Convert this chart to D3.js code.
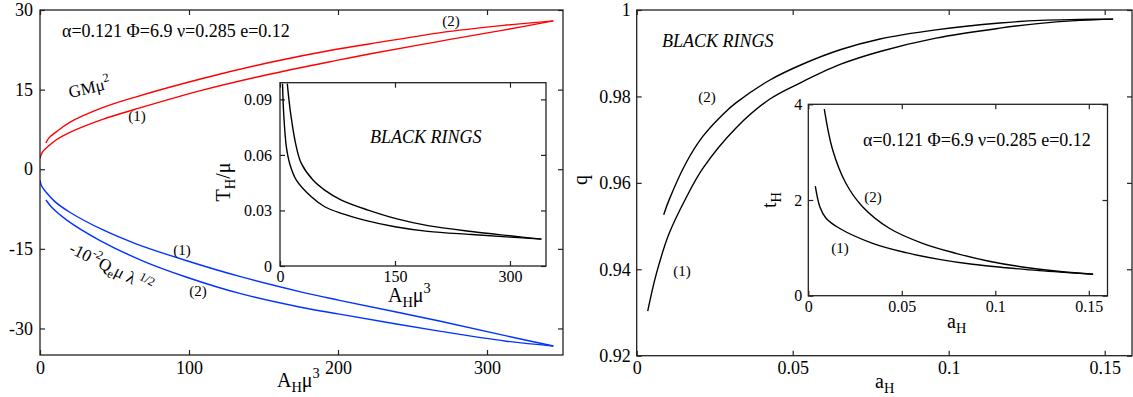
<!DOCTYPE html>
<html>
<head>
<meta charset="utf-8">
<script src="https://cdn.jsdelivr.net/npm/d3@7"></script>
<style>
  body { margin: 0; background: #fff; }
  svg { display: block; }
  text { font-family: "Liberation Serif", "DejaVu Serif", serif; fill: #000; }
</style>
</head>
<body>
<div id="chart"></div>
<script>
// ---- data ----
// left main panel: GM mu^2 and -10^-2 Qe mu lambda^1/2 against A_H mu^3
const gmBranch1 = [[0,2.0],[1.8,3.3],[6.3,4.5],[10.7,5.5],[19.7,6.9],[42,9.4],[64,11.3],[109,14.9],[154,17.9],[199,20.5],[221,21.7],[268,24.1],[311,26.2],[344.5,27.95]];
const gmBranch2 = [[4,4.95],[6,5.9],[10.7,7.0],[19.7,8.8],[42,11.6],[64,13.6],[109,17.1],[154,20.1],[199,22.6],[221,23.6],[268,25.7],[311,27.1],[344.5,27.95]];
const qeBranch1 = [[0,-2.06],[1,-3.1],[4,-4.3],[10,-6.1],[20,-8.1],[42,-11.4],[64,-14.0],[98,-17.2],[134,-20.2],[175,-23.1],[201,-24.7],[268,-28.6],[313,-31.4],[344.5,-33.3]];
const qeBranch2 = [[4,-5.8],[8,-7.2],[18,-9.6],[40,-13.4],[70,-17.4],[98,-20.3],[134,-23.4],[175,-26.0],[201,-27.3],[268,-30.5],[313,-32.4],[344.5,-33.3]];

// left inset: T_H/mu against A_H mu^3
const tBranch1 = [[3.3,0.0985],[4.8,0.0823],[8.3,0.0643],[12.6,0.0554],[21.3,0.0464],[40.9,0.0374],[58.3,0.032],[80,0.0284],[110,0.0248],[150,0.0212],[193,0.0187],[250,0.0170],[300,0.0156],[341,0.0145]];
const tBranch2 = [[9.5,0.0985],[13.9,0.0823],[21.3,0.0643],[27.8,0.0554],[43,0.0464],[58.3,0.041],[80,0.0356],[115,0.0302],[154,0.0253],[193,0.0218],[250,0.0186],[300,0.0163],[341,0.0145]];

// right main panel: q against a_H
const qBranch1 = [[0.00353,0.9303],[0.0062,0.9387],[0.01035,0.9482],[0.0158,0.9565],[0.02125,0.9634],[0.03183,0.9727],[0.0427,0.9794],[0.0523,0.9831],[0.0652,0.9874],[0.078,0.9904],[0.0959,0.9935],[0.1164,0.9958],[0.1293,0.9969],[0.1421,0.9976],[0.1527,0.9979]];
const qBranch2 = [[0.00865,0.9526],[0.01035,0.9560],[0.0158,0.9646],[0.02125,0.9708],[0.0277,0.9759],[0.0318,0.9785],[0.0427,0.9838],[0.0533,0.9875],[0.0652,0.9908],[0.078,0.9933],[0.0959,0.9954],[0.1164,0.9970],[0.1293,0.9976],[0.1421,0.9978],[0.1527,0.9979]];

// right inset: t_H against a_H
const thBranch1 = [[0.00375,2.29],[0.00625,1.85],[0.0095,1.62],[0.0166,1.41],[0.0344,1.095],[0.0522,0.90],[0.070,0.76],[0.0878,0.656],[0.1056,0.585],[0.1234,0.523],[0.1523,0.447]];
const thBranch2 = [[0.00855,3.90],[0.013,3.05],[0.0201,2.35],[0.029,1.86],[0.0433,1.41],[0.0611,1.095],[0.0789,0.886],[0.0967,0.72],[0.1145,0.60],[0.1323,0.515],[0.1523,0.447]];

// tick values
const leftXTicks = [0, 100, 200, 300];
const leftYTicks = [-30, -15, 0, 15, 30];
const insetLXTicks = [0, 150, 300];
const insetLYTicks = [0, 0.03, 0.06, 0.09];
const rightXTicks = [0, 0.05, 0.1, 0.15];
const rightYTicks = [0.92, 0.94, 0.96, 0.98, 1];
const insetRXTicks = [0, 0.05, 0.1, 0.15];
const insetRYTicks = [0, 2, 4];

const params = 'α=0.121 Φ=6.9 ν=0.285 e=0.12';

const svg = d3.select('#chart').append('svg')
    .attr('width', 1133)
    .attr('height', 397);

let clipId = 0;

// draws a framed panel with inward ticks on all four sides
function panel(o) {
    const x = d3.scaleLinear().domain(o.xDomain).range(o.xRange);
    const y = d3.scaleLinear().domain(o.yDomain).range(o.yRange);
    const x0 = o.xRange[0], x1 = o.xRange[1];
    const y0 = o.yRange[1], y1 = o.yRange[0];
    const g = svg.append('g');

    g.append('rect')
        .attr('x', x0).attr('y', y0)
        .attr('width', x1 - x0).attr('height', y1 - y0)
        .attr('fill', '#fff');

    const fmt = d => String(d);
    const put = (gen, tx, ty) => {
        const a = g.append('g')
            .attr('transform', `translate(${tx},${ty})`)
            .call(gen.tickSizeInner(-5).tickSizeOuter(0));
        a.select('.domain').remove();
        a.attr('font-family', null).attr('font-size', null);
        a.selectAll('line').attr('stroke', '#222').attr('stroke-width', 1.2);
        a.selectAll('text').style('font-size', o.fs + 'px');
        return a;
    };
    put(d3.axisBottom(x).tickValues(o.xTicks).tickFormat(fmt).tickPadding(o.padB), 0, y1);
    put(d3.axisLeft(y).tickValues(o.yTicks).tickFormat(fmt).tickPadding(o.padL), x0, 0);
    put(d3.axisTop(x).tickValues(o.xTicks).tickFormat(''), 0, y0);
    put(d3.axisRight(y).tickValues(o.yTicks).tickFormat(''), x1, 0);

    const id = 'clip' + (clipId++);
    g.append('clipPath').attr('id', id)
        .append('rect')
        .attr('x', x0).attr('y', y0)
        .attr('width', x1 - x0).attr('height', y1 - y0);

    const line = d3.line()
        .x(d => x(d[0]))
        .y(d => y(d[1]))
        .curve(d3.curveCatmullRom.alpha(0.5));

    o.series.forEach(s => {
        g.append('path')
            .datum(s.data)
            .attr('clip-path', `url(#${id})`)
            .attr('fill', 'none')
            .attr('stroke', s.color)
            .attr('stroke-width', 1.4)
            .attr('d', line);
    });

    g.append('rect')
        .attr('x', x0).attr('y', y0)
        .attr('width', x1 - x0).attr('height', y1 - y0)
        .attr('fill', 'none')
        .attr('stroke', '#222')
        .attr('stroke-width', 1.3);
    return g;
}

// text with sub / superscripts
function rich(x, y, segs, size, opt = {}) {
    const t = svg.append('text')
        .attr('x', x).attr('y', y)
        .style('font-size', size + 'px');
    if (opt.rotate) t.attr('transform', `rotate(${opt.rotate},${x},${y})`);
    if (opt.anchor) t.attr('text-anchor', opt.anchor);
    if (opt.italic) t.style('font-style', 'italic');
    let shift = 0;
    segs.forEach(([s, k]) => {
        const target = k === 'sub' ? 0.25 * size : k === 'sup' ? -0.45 * size : 0;
        t.append('tspan')
            .attr('dy', target - shift)
            .style('font-size', (k === 'n' ? size : size * 0.72) + 'px')
            .text(s);
        shift = target;
    });
    return t;
}

// left main
panel({
    xDomain: [0, 351], xRange: [40, 563],
    yDomain: [-35, 30], yRange: [355, 10],
    xTicks: leftXTicks, yTicks: leftYTicks,
    fs: 18, padB: 6, padL: 7,
    series: [
        { data: gmBranch1, color: '#ff0000' },
        { data: gmBranch2, color: '#ff0000' },
        { data: qeBranch1, color: '#0033ff' },
        { data: qeBranch2, color: '#0033ff' }
    ]
});

// left inset
panel({
    xDomain: [0, 347], xRange: [280, 546],
    yDomain: [0, 0.099], yRange: [266, 82.7],
    xTicks: insetLXTicks, yTicks: insetLYTicks,
    fs: 16, padB: 5, padL: 8,
    series: [
        { data: tBranch1, color: '#000' },
        { data: tBranch2, color: '#000' }
    ]
});

// right main
panel({
    xDomain: [0, 0.15875], xRange: [636.7, 1132],
    yDomain: [0.92, 1], yRange: [355.7, 10],
    xTicks: rightXTicks, yTicks: rightYTicks,
    fs: 18, padB: 6, padL: 6,
    series: [
        { data: qBranch1, color: '#000' },
        { data: qBranch2, color: '#000' }
    ]
});

// right inset
panel({
    xDomain: [0, 0.16], xRange: [808.3, 1107.5],
    yDomain: [0, 4], yRange: [295.7, 104.3],
    xTicks: insetRXTicks, yTicks: insetRYTicks,
    fs: 16, padB: 5, padL: 6,
    series: [
        { data: thBranch1, color: '#000' },
        { data: thBranch2, color: '#000' }
    ]
});

// left panel texts
rich(62, 37, [[params, 'n']], 18);
rich(70, 98, [['GMμ', 'n'], ['2', 'sup']], 17, { rotate: -13 });
rich(137, 121, [['(1)', 'n']], 15, { anchor: 'middle' });
rich(451, 26, [['(2)', 'n']], 15, { anchor: 'middle' });
rich(182, 255, [['(1)', 'n']], 15, { anchor: 'middle' });
rich(198, 296, [['(2)', 'n']], 15, { anchor: 'middle' });
rich(68, 252, [['-10', 'n'], ['-2', 'sup'], ['Q', 'n'], ['e', 'sub'], ['μ λ', 'n'], [' 1/2', 'sup']], 17, { rotate: 27 });
rich(277, 387, [['A', 'n'], ['H', 'sub'], ['μ', 'n'], ['3', 'sup']], 20);
rich(388, 302, [['A', 'n'], ['H', 'sub'], ['μ', 'n'], ['3', 'sup']], 20);
rich(230, 182, [['T', 'n'], ['H', 'sub'], ['/μ', 'n']], 20, { rotate: -90, anchor: 'middle' });
rich(370, 143, [['BLACK RINGS', 'n']], 18, { italic: true });

// right panel texts
rich(662, 47, [['BLACK RINGS', 'n']], 18, { italic: true });
rich(707, 102, [['(2)', 'n']], 15, { anchor: 'middle' });
rich(682, 276, [['(1)', 'n']], 15, { anchor: 'middle' });
rich(587, 180, [['q', 'n']], 20, { rotate: -90, anchor: 'middle' });
rich(875, 388, [['a', 'n'], ['H', 'sub']], 20);
rich(947, 328, [['a', 'n'], ['H', 'sub']], 20);
rich(776, 200, [['t', 'n'], ['H', 'sub']], 20, { rotate: -90, anchor: 'middle' });
rich(863, 146, [[params, 'n']], 18);
rich(873, 202, [['(2)', 'n']], 15, { anchor: 'middle' });
rich(840, 253, [['(1)', 'n']], 15, { anchor: 'middle' });
</script>
</body>
</html>
